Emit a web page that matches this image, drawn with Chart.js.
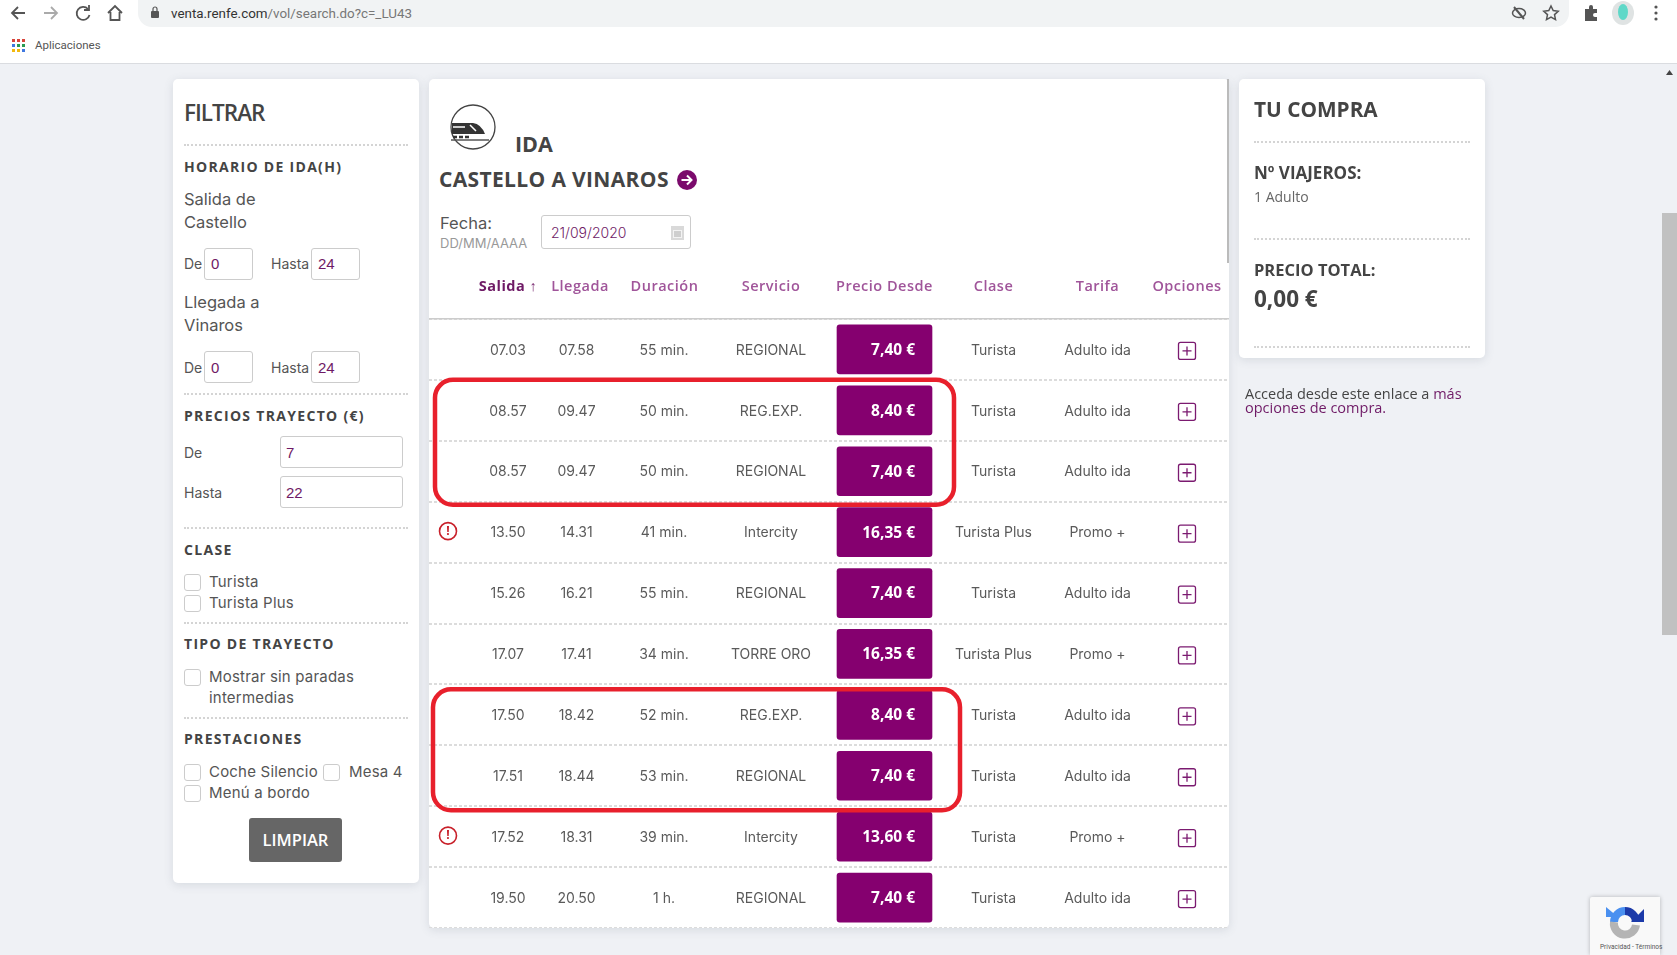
<!DOCTYPE html>
<html>
<head>
<meta charset="utf-8">
<title>Renfe</title>
<script src="https://cdn.jsdelivr.net/npm/chart.js@4"></script>
<style>
  html, body { margin: 0; padding: 0; overflow: hidden; }
  body { width: 1677px; height: 955px; background: #eff1f5; position: relative; font-family: Inter, sans-serif; color: #555; }
  .abs { position: absolute; }
  .t { position: absolute; white-space: nowrap; line-height: 1; transform: translateY(-50%); }
  .panel { position: absolute; background: #fff; border-radius: 5px; box-shadow: 0 2px 10px rgba(90,100,120,.16); }
  .dots { position: absolute; height: 0; border-top: 2px dotted #d4d4d4; }
  .h { font: 700 14px "Open Sans"; letter-spacing: 1.3px; color: #444; margin-top: -1.5px; }
  .lab { font: 400 16.5px Inter; color: #555; }
  .small { font: 400 14px Inter; color: #555; margin-top: -1px; }
  .opt { font: 400 15px Inter; letter-spacing: .2px; color: #555; margin-top: -1px; }
  .box { position: absolute; box-sizing: border-box; background: #fff; border: 1px solid #ccc; border-radius: 3px; }
  .val { font: 400 15px "Liberation Sans"; color: #6f1a66; margin-top: -1px; }
  .check { position: absolute; box-sizing: border-box; width: 17px; height: 17px; border: 1px solid #ccc; border-radius: 3px; background: #fff; }
  #tableWrap { position: absolute; left: 429px; top: 260px; width: 800px; height: 668px; }
</style>
</head>
<body>

<!-- browser bar -->
<div class="abs" style="left:0;top:0;width:1677px;height:63px;background:#fff;border-bottom:1px solid #dadce0"></div>
<div class="abs" style="left:138px;top:0;width:1431px;height:27px;background:#f1f3f4;border-radius:0 0 14px 14px"></div>
<svg class="abs" style="left:0;top:0" width="180" height="30" fill="none" stroke-width="1.8">
  <path d="M25 13H12M18 7l-6 6 6 6" stroke="#555"/>
  <path d="M44 13h13M51 7l6 6-6 6" stroke="#aaa"/>
  <path d="M88 9a6.5 6.5 0 1 0 1.5 6" stroke="#555"/><path d="M89 5v5h-5" stroke="#555"/>
  <path d="M108 13l7-7 7 7M110.500 12v8h9v-8" stroke="#555"/>
  <rect x="151" y="11" width="8" height="7" rx="1" fill="#555" stroke="none"/><path d="M153 11V9a2 2 0 0 1 4 0v2" stroke="#555" stroke-width="1.2"/>
</svg>
<div class="t" style="left:171px;top:13px;font:400 13.400px Roboto;color:#777"><span style="color:#333">venta.renfe.com</span>/vol/search.do?c=_LU43</div>
<svg class="abs" style="left:1505px;top:0" width="172" height="30" fill="none" stroke-width="1.5">
  <ellipse cx="14" cy="13" rx="6.500" ry="4.500" stroke="#555"/><path d="M9 7l10 12" stroke="#555" stroke-width="2"/>
  <path d="M46 6l2.200 4.600 5 .6-3.700 3.400 1 5-4.500-2.500-4.500 2.500 1-5-3.700-3.400 5-.6z" stroke="#555"/>
  <path d="M80 9h4v-2a2 2 0 0 1 4 0v2h4v4h-2a2 2 0 0 0 0 4h2v4H80z" fill="#555" stroke="none"/>
  <ellipse cx="118" cy="13" rx="11" ry="12" fill="#dfe3e3" stroke="none"/><ellipse cx="118" cy="12" rx="5" ry="8" fill="#5fd8c8" stroke="none"/>
  <circle cx="151" cy="7" r="1.600" fill="#555" stroke="none"/><circle cx="151" cy="13" r="1.600" fill="#555" stroke="none"/><circle cx="151" cy="19" r="1.600" fill="#555" stroke="none"/>
</svg>
<svg class="abs" style="left:11px;top:38px" width="15" height="15">
  <g fill="#d8443a"><rect x="1" y="1" width="3" height="3"/><rect x="6" y="1" width="3" height="3"/><rect x="11" y="1" width="3" height="3"/></g>
  <g fill="#3f78e0"><rect x="1" y="6" width="3" height="3"/></g><g fill="#2a9a52"><rect x="6" y="6" width="3" height="3"/><rect x="11" y="6" width="3" height="3"/></g>
  <g fill="#f2b90f"><rect x="1" y="11" width="3" height="3"/><rect x="6" y="11" width="3" height="3"/></g><g fill="#3f78e0"><rect x="11" y="11" width="3" height="3"/></g>
</svg>
<div class="t" style="left:35px;top:45px;font:400 11.500px Roboto;color:#555">Aplicaciones</div>

<!-- scrollbar -->
<div class="abs" style="left:1662px;top:213px;width:15px;height:422px;background:#c1c1c1"></div>
<svg class="abs" style="left:1662px;top:68px" width="15" height="10"><path d="M4 7h7L7.500 2z" fill="#444"/></svg>

<!-- filtrar -->
<div class="panel" style="left:173px;top:79px;width:246px;height:804px"></div>
<div class="t" style="left:184px;top:112px;font:600 22.500px 'Open Sans';letter-spacing:-1px;color:#444">FILTRAR</div>
<div class="dots" style="left:184px;top:144px;width:224px"></div>
<div class="t h" style="left:184px;top:167px">HORARIO DE IDA(H)</div>
<div class="t lab" style="left:184px;top:199px">Salida de</div>
<div class="t lab" style="left:184px;top:222px">Castello</div>
<div class="t small" style="left:184px;top:264px">De</div>
<div class="box" style="left:204px;top:248px;width:49px;height:32px"></div>
<div class="t val" style="left:211px;top:264px">0</div>
<div class="t small" style="left:271px;top:264px">Hasta</div>
<div class="box" style="left:311px;top:248px;width:49px;height:32px"></div>
<div class="t val" style="left:318px;top:264px">24</div>
<div class="t lab" style="left:184px;top:302px">Llegada a</div>
<div class="t lab" style="left:184px;top:325px">Vinaros</div>
<div class="t small" style="left:184px;top:368px">De</div>
<div class="box" style="left:204px;top:351px;width:49px;height:32px"></div>
<div class="t val" style="left:211px;top:368px">0</div>
<div class="t small" style="left:271px;top:368px">Hasta</div>
<div class="box" style="left:311px;top:351px;width:49px;height:32px"></div>
<div class="t val" style="left:318px;top:368px">24</div>
<div class="dots" style="left:184px;top:393px;width:224px"></div>
<div class="t h" style="left:184px;top:416px">PRECIOS TRAYECTO (€)</div>
<div class="t small" style="left:184px;top:453px">De</div>
<div class="box" style="left:280px;top:436px;width:123px;height:32px"></div>
<div class="t val" style="left:286px;top:453px">7</div>
<div class="t small" style="left:184px;top:493px">Hasta</div>
<div class="box" style="left:280px;top:476px;width:123px;height:32px"></div>
<div class="t val" style="left:286px;top:493px">22</div>
<div class="dots" style="left:184px;top:527px;width:224px"></div>
<div class="t h" style="left:184px;top:550px">CLASE</div>
<div class="check" style="left:184px;top:574px"></div>
<div class="t opt" style="left:209px;top:582px">Turista</div>
<div class="check" style="left:184px;top:595px"></div>
<div class="t opt" style="left:209px;top:603px">Turista Plus</div>
<div class="dots" style="left:184px;top:622px;width:224px"></div>
<div class="t h" style="left:184px;top:644px">TIPO DE TRAYECTO</div>
<div class="check" style="left:184px;top:669px"></div>
<div class="t opt" style="left:209px;top:677px">Mostrar sin paradas</div>
<div class="t opt" style="left:209px;top:698px">intermedias</div>
<div class="dots" style="left:184px;top:717px;width:224px"></div>
<div class="t h" style="left:184px;top:739px">PRESTACIONES</div>
<div class="check" style="left:184px;top:764px"></div>
<div class="t opt" style="left:209px;top:772px">Coche Silencio</div>
<div class="check" style="left:323px;top:764px"></div>
<div class="t opt" style="left:349px;top:772px">Mesa 4</div>
<div class="check" style="left:184px;top:785px"></div>
<div class="t opt" style="left:209px;top:793px">Menú a bordo</div>
<div class="abs" style="left:249px;top:818px;width:93px;height:44px;line-height:44px;background:#666;border-radius:3px;color:#fff;text-align:center;font:600 16.500px/44px 'Open Sans'">LIMPIAR</div>

<!-- ida -->
<div class="panel" style="left:429px;top:79px;width:800px;height:849px"></div>
<div class="abs" style="left:1227px;top:79px;width:2px;height:184px;background:#bbb"></div>
<svg class="abs" style="left:448px;top:103px" width="50" height="48" fill="none">
  <ellipse cx="25" cy="24" rx="22" ry="22" stroke="#444" stroke-width="1.300"/>
  <path d="M4 20h21q8 1 12 11H4z" fill="#333"/><path d="M5 24h12M22 22l6 6" stroke="#fff" stroke-width="1.500"/>
  <path d="M5 34h4M11 34h4M17 34h4" stroke="#333" stroke-width="2.500"/><path d="M3 37h38" stroke="#555" stroke-width="1.500"/>
</svg>
<div class="t" style="left:515px;top:143px;font:700 21.500px 'Open Sans';color:#444">IDA</div>
<div class="t" style="left:439px;top:179px;font:700 21px 'Open Sans';letter-spacing:.35px;color:#444">CASTELLO A VINAROS</div>
<svg class="abs" style="left:677px;top:170px" width="20" height="20">
  <circle cx="10" cy="10" r="10" fill="#7b0a6c"/><path d="M4.500 10h10M10 5.500l4.500 4.500-4.500 4.500" stroke="#fff" stroke-width="2" fill="none"/>
</svg>
<div class="t lab" style="left:440px;top:223px">Fecha:</div>
<div class="t" style="left:440px;top:243px;font:400 13px Inter;color:#999">DD/MM/AAAA</div>
<div class="box" style="left:541px;top:215px;width:150px;height:34px"></div>
<div class="t" style="left:551px;top:232px;font:300 14px Inter;color:#6f1a66">21/09/2020</div>
<svg class="abs" style="left:670px;top:224px" width="15" height="17"><rect x="1" y="2" width="13" height="14" fill="#d9d9d9"/><rect x="3" y="6" width="9" height="8" fill="#f3f3f3"/><path d="M4 8h7M4 10h7M4 12h7" stroke="#aaa"/></svg>

<!-- tabla -->
<div id="tableWrap"><canvas id="trips" width="800" height="668"></canvas></div>

<!-- tu compra -->
<div class="panel" style="left:1239px;top:79px;width:246px;height:279px"></div>
<div class="t" style="left:1254px;top:109px;font:700 20.800px 'Open Sans';color:#444">TU COMPRA</div>
<div class="dots" style="left:1254px;top:141px;width:216px"></div>
<div class="t" style="left:1254px;top:172px;font:700 17px 'Open Sans';color:#444">Nº VIAJEROS:</div>
<div class="t" style="left:1254px;top:196px;font:400 14px 'Open Sans';color:#666">1 Adulto</div>
<div class="dots" style="left:1254px;top:238px;width:216px"></div>
<div class="t" style="left:1254px;top:269px;font:700 16.500px 'Open Sans';color:#444">PRECIO TOTAL:</div>
<div class="t" style="left:1254px;top:297.500px;font:700 22.500px 'Open Sans';color:#444">0,00 €</div>
<div class="dots" style="left:1254px;top:346px;width:216px"></div>
<div class="t" style="left:1245px;top:393px;font:400 14.500px 'Open Sans';color:#444">Acceda desde este enlace a <span style="color:#6f1a66">más</span></div>
<div class="t" style="left:1245px;top:407px;font:400 14.500px 'Open Sans';color:#6f1a66">opciones de compra.</div>

<!-- recaptcha -->
<div class="abs" style="left:1590px;top:897px;width:70px;height:58px;background:#f9f9f9;box-shadow:0 0 4px rgba(0,0,0,.25);border-radius:2px 0 0 0"></div>
<svg class="abs" style="left:1606px;top:903px" width="38" height="38" fill="none" stroke-width="8">
  <path d="M19 8a11 11 0 0 0-11 11" stroke="#4a90f0"/><path d="M19 8a11 11 0 0 1 11 11" stroke="#1c3aa9"/><path d="M8 19a11 11 0 0 0 22 3" stroke="#b4b4b4"/>
  <path d="M0 4l12 10H0z" fill="#4a90f0" stroke="none"/><path d="M38 6v13H25z" fill="#1c3aa9" stroke="none"/>
</svg>
<div class="t" style="left:1600px;top:947px;font:400 6.500px Roboto;color:#555">Privacidad - Términos</div>

<script>
const columnHeaders = ["Salida ↑", "Llegada", "Duración", "Servicio", "Precio Desde", "Clase", "Tarifa", "Opciones"];
const departures = ["07.03", "08.57", "08.57", "13.50", "15.26", "17.07", "17.50", "17.51", "17.52", "19.50"];
const arrivals = ["07.58", "09.47", "09.47", "14.31", "16.21", "17.41", "18.42", "18.44", "18.31", "20.50"];
const durations = ["55 min.", "50 min.", "50 min.", "41 min.", "55 min.", "34 min.", "52 min.", "53 min.", "39 min.", "1 h."];
const services = ["REGIONAL", "REG.EXP.", "REGIONAL", "Intercity", "REGIONAL", "TORRE ORO", "REG.EXP.", "REGIONAL", "Intercity", "REGIONAL"];
const prices = ["7,40 €", "8,40 €", "7,40 €", "16,35 €", "7,40 €", "16,35 €", "8,40 €", "7,40 €", "13,60 €", "7,40 €"];
const classes = ["Turista", "Turista", "Turista", "Turista Plus", "Turista", "Turista Plus", "Turista", "Turista", "Turista", "Turista"];
const fares = ["Adulto ida", "Adulto ida", "Adulto ida", "Promo +", "Adulto ida", "Promo +", "Adulto ida", "Adulto ida", "Promo +", "Adulto ida"];
const warningRows = [3, 8];
const circledRows = [[1, 2], [6, 7]];

// x axis runs in page pixels so the columns sit where the table has them
const colX = [508, 576.5, 664, 771, 884.5, 993.5, 1097.5, 1187];
// header labels are not quite centred over their columns
const headerX = [508, 580, 664.5, 771, 884.5, 993.5, 1097.5, 1187];
const textColumns = [departures, arrivals, durations, services, null, classes, fares];

// table cells, warning marks, + buttons and the red circled groups
const cellsPlugin = {
  id: "cells",
  beforeDraw(chart) {
    chart.ctx.letterSpacing = "0.5px";
  },
  afterDatasetsDraw(chart) {
    const { ctx, scales: { x, y } } = chart;
    ctx.save();
    ctx.letterSpacing = "0px";
    ctx.textBaseline = "middle";

    departures.forEach((d, i) => {
      const py = y.getPixelForValue(i);
      ctx.font = "400 14px Inter";
      ctx.fillStyle = "#5a5a5a";
      ctx.textAlign = "center";
      textColumns.forEach((col, c) => {
        if (col) ctx.fillText(col[i], x.getPixelForValue(colX[c]), py + 1);
      });

      ctx.font = "700 15.5px 'Open Sans'";
      ctx.fillStyle = "#fff";
      ctx.textAlign = "right";
      ctx.fillText(prices[i], x.getPixelForValue(915), py + 1);

      // + button
      const bx = x.getPixelForValue(colX[7]);
      ctx.strokeStyle = "#7b1a70";
      ctx.lineWidth = 1.3;
      ctx.beginPath();
      ctx.roundRect(bx - 8.5, py - 7, 17, 17, 2);
      ctx.moveTo(bx - 4.5, py + 1.5);
      ctx.lineTo(bx + 4.5, py + 1.5);
      ctx.moveTo(bx, py - 3);
      ctx.lineTo(bx, py + 6);
      ctx.stroke();
    });

    warningRows.forEach((i) => {
      const wx = x.getPixelForValue(448);
      const wy = y.getPixelForValue(i);
      ctx.strokeStyle = "#c8202a";
      ctx.lineWidth = 1.6;
      ctx.beginPath();
      ctx.arc(wx, wy - 1, 8.5, 0, Math.PI * 2);
      ctx.stroke();
      ctx.font = "700 12px 'Open Sans'";
      ctx.fillStyle = "#c8202a";
      ctx.textAlign = "center";
      ctx.fillText("!", wx, wy - 1);
    });

    ctx.strokeStyle = "#e8202c";
    ctx.lineWidth = 4.5;
    circledRows.forEach(([a, b], n) => {
      const half = 30.5;
      const left = x.getPixelForValue(n ? 433 : 435);
      const right = x.getPixelForValue(n ? 960 : 954);
      const top = y.getPixelForValue(a) - half + (n ? 5 : 0);
      const bottom = y.getPixelForValue(b) + half + (n ? 4 : 3);
      ctx.beginPath();
      ctx.roundRect(left, top, right - left, bottom - top, 18);
      ctx.stroke();
    });
    ctx.restore();
  },
};

new Chart(document.getElementById("trips"), {
  type: "bar",
  data: {
    labels: departures,
    datasets: [{
      data: prices.map(() => [colX[4] - 47.5, colX[4] + 47.5]),
      backgroundColor: "#85006f",
      borderRadius: 3,
      borderSkipped: false,
      barThickness: 49,
    }],
  },
  plugins: [cellsPlugin],
  options: {
    indexAxis: "y",
    responsive: false,
    animation: false,
    events: [],
    layout: { padding: 0 },
    plugins: { legend: { display: false }, tooltip: { enabled: false } },
    scales: {
      x: {
        type: "linear",
        position: "top",
        min: 429,
        max: 1229,
        afterBuildTicks(axis) {
          axis.ticks = headerX.map((v) => ({ value: v }));
        },
        afterFit(axis) {
          axis.height = 59;
          axis.paddingLeft = 0;
          axis.paddingRight = 0;
        },
        grid: { display: false },
        border: { display: true, color: "#ccc", width: 1.5 },
        ticks: {
          autoSkip: false,
          maxRotation: 0,
          padding: 15,
          callback: (v) => columnHeaders[headerX.indexOf(v)],
          color: (c) => (c.index === 0 ? "#6f1a66" : "#a0559a"),
          font: (c) => ({ family: "Open Sans", size: 14.5, weight: c.index === 0 ? "700" : "600" }),
        },
      },
      y: {
        type: "category",
        grid: { offset: true, color: "#dcdcdc", lineWidth: 2, drawTicks: false },
        border: { display: false, dash: [3, 2] },
        ticks: { display: false },
      },
    },
  },
});
</script>
</body>
</html>
